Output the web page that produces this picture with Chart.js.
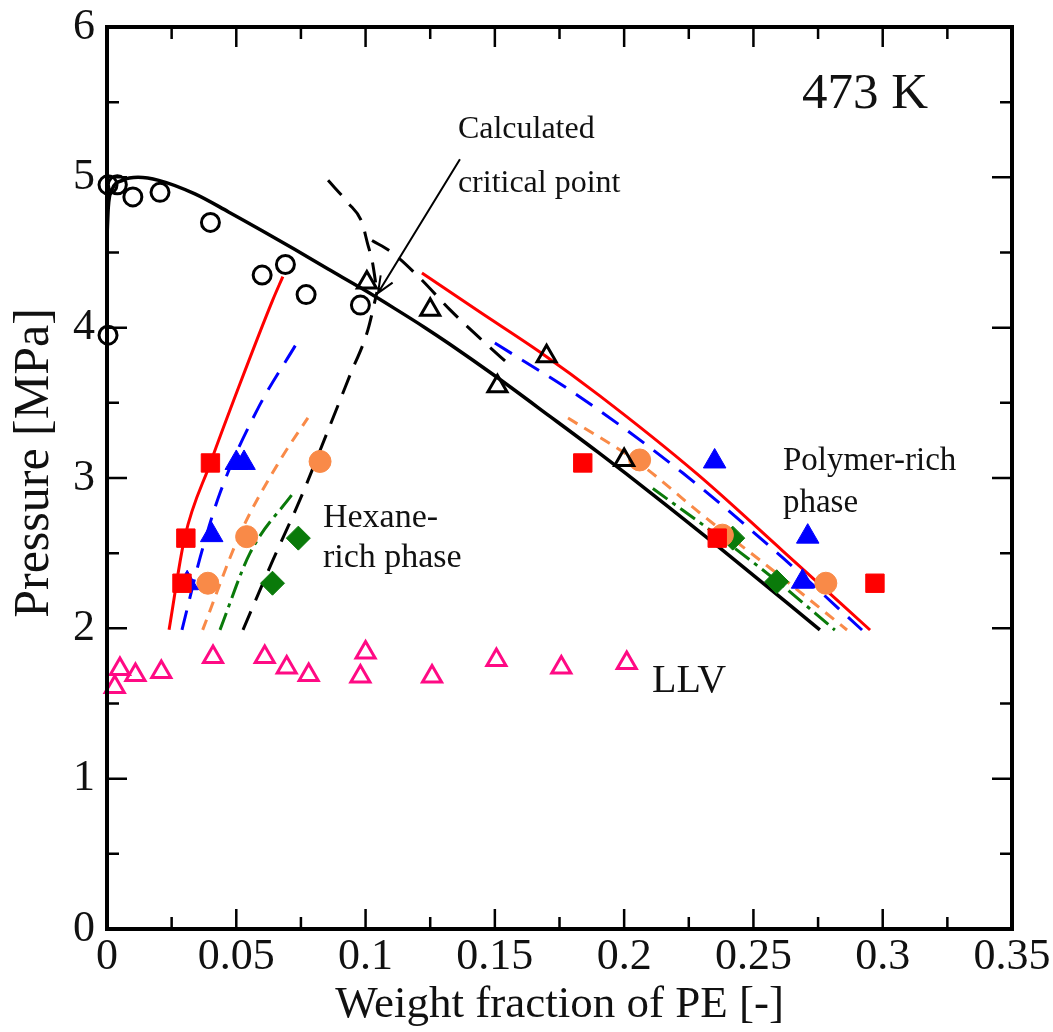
<!DOCTYPE html>
<html lang="en">
<head>
<meta charset="UTF-8">
<title>PE / hexane phase behaviour at 473 K</title>
<script src="https://cdn.jsdelivr.net/npm/chart.js@4.4.2/dist/chart.umd.min.js"></script>
<style>
  html, body { margin: 0; padding: 0; background: #fff; }
  #wrap { position: relative; width: 1053px; height: 1032px; }
</style>
</head>
<body>
<div id="wrap"><canvas id="chart"></canvas></div>
<script>
const SERIF = "'Liberation Serif', 'Times New Roman', serif";

// --- experimental points ---
// open circles: hexane-rich side, VLE
const vleCircleX = [0.0004, 0.004, 0.010, 0.0205, 0.040, 0.060, 0.069, 0.077, 0.098, 0.0004];
const vleCircleY = [4.95, 4.95, 4.87, 4.90, 4.70, 4.35, 4.42, 4.22, 4.15, 3.95];
// open triangles: polymer-rich side
const vleTriX = [0.1005, 0.125, 0.151, 0.170, 0.200];
const vleTriY = [4.30, 4.12, 3.61, 3.81, 3.12];
// filled markers, one colour per feed composition
const redSqX = [0.040, 0.0305, 0.029, 0.184, 0.236, 0.297];
const redSqY = [3.10, 2.60, 2.30, 3.10, 2.60, 2.30];
const blueTriX = [0.050, 0.053, 0.0405, 0.031, 0.235, 0.271, 0.269];
const blueTriY = [3.10, 3.10, 2.62, 2.30, 3.11, 2.61, 2.31];
const orangeX = [0.0824, 0.054, 0.039, 0.206, 0.238, 0.278];
const orangeY = [3.11, 2.61, 2.30, 3.12, 2.62, 2.30];
const greenX = [0.074, 0.064, 0.242, 0.259];
const greenY = [2.60, 2.30, 2.60, 2.31];
// LLV points
const llvX = [0.003, 0.005, 0.011, 0.021, 0.041, 0.061, 0.0695, 0.078, 0.100, 0.098, 0.1257, 0.1506, 0.1757, 0.201];
const llvY = [1.61, 1.73, 1.69, 1.71, 1.81, 1.81, 1.74, 1.69, 1.84, 1.68, 1.68, 1.79, 1.74, 1.77];

// --- calculated curves ---
const blackSolidX = [0, 0.0005, 0.002, 0.006, 0.012, 0.020, 0.034, 0.047, 0.060, 0.0727, 0.0855, 0.0986, 0.111, 0.123, 0.1326, 0.150, 0.1713, 0.190, 0.2111, 0.237, 0.2757];
const blackSolidY = [4.60, 4.80, 4.92, 4.98, 5.00, 4.98, 4.89, 4.77, 4.645, 4.52, 4.39, 4.26, 4.13, 4.00, 3.89, 3.68, 3.41, 3.17, 2.89, 2.535, 1.99];

const redHexX = [0.024, 0.030, 0.040, 0.0515, 0.064, 0.068];
const redHexY = [1.99, 2.60, 3.10, 3.63, 4.18, 4.34];
const redPolX = [0.1218, 0.1442, 0.1674, 0.1906, 0.2282, 0.2614, 0.2951];
const redPolY = [4.364, 4.104, 3.838, 3.546, 3.027, 2.514, 1.989];

const blueHexX = [0.029, 0.036, 0.0437, 0.058, 0.0735];
const blueHexY = [1.99, 2.47, 2.90, 3.45, 3.90];
const bluePolX = [0.150, 0.1829, 0.2227, 0.2614, 0.292];
const bluePolY = [3.898, 3.539, 3.033, 2.468, 1.989];

const orangeHexX = [0.037, 0.0515, 0.067, 0.0777];
const orangeHexY = [1.99, 2.63, 3.12, 3.40];
const orangePolX = [0.1783, 0.2057, 0.2293, 0.2603, 0.2862];
const orangePolY = [3.399, 3.10, 2.767, 2.348, 1.989];

const greenHexX = [0.0437, 0.0553, 0.072];
const greenHexY = [1.99, 2.50, 2.90];
const greenPolX = [0.2111, 0.2421, 0.2595, 0.2815];
const greenPolY = [2.93, 2.541, 2.308, 1.989];

const blackDashHexX = [0.0526, 0.0642, 0.0746, 0.0851, 0.094, 0.1009, 0.1044];
const blackDashHexY = [1.99, 2.455, 2.854, 3.30, 3.685, 3.985, 4.237];
const blackDashUpX = [0.0855, 0.0932, 0.0986, 0.1009, 0.1025, 0.1044];
const blackDashUpY = [4.98, 4.83, 4.70, 4.55, 4.45, 4.24];
const blackDashPolX = [0.1025, 0.1102, 0.121, 0.1326, 0.1442, 0.1558];
const blackDashPolY = [4.58, 4.50, 4.33, 4.12, 3.93, 3.75];

// axis ranges / ticks
const xMin = 0, xMax = 0.35, xStep = 0.05, xMinor = 0.025;
const yMin = 0, yMax = 6, yStep = 1, yMinor = 0.5;

// annotations (data coordinates, text baseline)
const arrowFrom = [0.1365, 5.12];
const arrowTo = [0.1048, 4.23];
const notes = [
  { text: '473 K', x: 0.2688, y: 5.46, size: 51 },
  { text: 'Calculated', x: 0.1357, y: 5.26, size: 32 },
  { text: 'critical point', x: 0.1357, y: 4.90, size: 32 },
  { text: 'Hexane-', x: 0.0835, y: 2.674, size: 34 },
  { text: 'rich phase', x: 0.0835, y: 2.408, size: 34 },
  { text: 'Polymer-rich', x: 0.2614, y: 3.053, size: 33 },
  { text: 'phase', x: 0.2614, y: 2.774, size: 33 },
  { text: 'LLV', x: 0.2108, y: 1.577, size: 40 }
];
const yTitle = { text: 'Pressure [MPa]', size: 50, cx: 35, value: 3.1 };

function pts(xs, ys) {
  return xs.map((x, i) => ({ x: x, y: ys[i] }));
}

function marker(data, style, color, radius, filled) {
  return {
    data: data,
    showLine: false,
    pointStyle: style,
    pointRadius: radius,
    pointBorderWidth: filled ? 1 : 3,
    pointBorderColor: color,
    pointBackgroundColor: filled ? color : 'rgba(0,0,0,0)',
    clip: false,
    order: 0
  };
}

function curve(data, color, dash, width) {
  return {
    data: data,
    showLine: true,
    borderColor: color,
    borderWidth: width || 3,
    borderDash: dash || [],
    pointRadius: 0,
    cubicInterpolationMode: 'monotone',
    fill: false,
    order: 1
  };
}

const BLUE = '#0000ff', RED = '#ff0000', ORANGE = '#f98a48', GREEN = '#0a7a0a', PINK = '#ff0a84';

// inward ticks on all four sides plus the frame
const framePlugin = {
  id: 'frame',
  afterDraw(chart) {
    const { ctx, chartArea: a, scales: { x, y } } = chart;
    ctx.save();
    ctx.strokeStyle = '#000';
    ctx.lineWidth = 2.5;
    ctx.beginPath();
    const nx = Math.round((xMax - xMin) / xMinor);
    for (let i = 1; i < nx; i++) {
      const px = x.getPixelForValue(xMin + i * xMinor);
      const len = i % 2 === 0 ? 20 : 12;
      ctx.moveTo(px, a.bottom); ctx.lineTo(px, a.bottom - len);
      ctx.moveTo(px, a.top); ctx.lineTo(px, a.top + len);
    }
    const ny = Math.round((yMax - yMin) / yMinor);
    for (let i = 1; i < ny; i++) {
      const py = y.getPixelForValue(yMin + i * yMinor);
      const len = i % 2 === 0 ? 20 : 12;
      ctx.moveTo(a.left, py); ctx.lineTo(a.left + len, py);
      ctx.moveTo(a.right, py); ctx.lineTo(a.right - len, py);
    }
    ctx.stroke();
    ctx.lineWidth = 4;
    ctx.strokeRect(a.left, a.top, a.right - a.left, a.bottom - a.top);
    ctx.restore();
  }
};

const notePlugin = {
  id: 'notes',
  afterDraw(chart) {
    const { ctx, scales: { x, y } } = chart;
    ctx.save();
    ctx.fillStyle = '#111';
    ctx.textBaseline = 'alphabetic';
    ctx.textAlign = 'left';
    notes.forEach(n => {
      ctx.font = n.size + 'px ' + SERIF;
      ctx.fillText(n.text, x.getPixelForValue(n.x), y.getPixelForValue(n.y));
    });
    // y axis title, sitting a little above the middle as in the original
    ctx.save();
    ctx.translate(yTitle.cx, y.getPixelForValue(yTitle.value));
    ctx.rotate(-Math.PI / 2);
    ctx.textAlign = 'center';
    ctx.textBaseline = 'middle';
    ctx.font = yTitle.size + 'px ' + SERIF;
    ctx.fillText(yTitle.text, 0, 0);
    ctx.restore();
    // arrow to the critical point
    const x0 = x.getPixelForValue(arrowFrom[0]), y0 = y.getPixelForValue(arrowFrom[1]);
    const x1 = x.getPixelForValue(arrowTo[0]), y1 = y.getPixelForValue(arrowTo[1]);
    const ang = Math.atan2(y1 - y0, x1 - x0);
    ctx.strokeStyle = '#000';
    ctx.lineWidth = 2;
    ctx.beginPath();
    ctx.moveTo(x0, y0); ctx.lineTo(x1, y1);
    ctx.moveTo(x1 - 18 * Math.cos(ang - 0.4), y1 - 18 * Math.sin(ang - 0.4));
    ctx.lineTo(x1, y1);
    ctx.lineTo(x1 - 18 * Math.cos(ang + 0.4), y1 - 18 * Math.sin(ang + 0.4));
    ctx.stroke();
    ctx.restore();
  }
};

new Chart(document.getElementById('chart'), {
  type: 'scatter',
  data: {
    datasets: [
      marker(pts(vleCircleX, vleCircleY), 'circle', '#000', 9, false),
      marker(pts(vleTriX, vleTriY), 'triangle', '#000', 11, false),
      marker(pts(redSqX, redSqY), 'rect', RED, 13, true),
      marker(pts(blueTriX, blueTriY), 'triangle', BLUE, 13, true),
      marker(pts(orangeX, orangeY), 'circle', ORANGE, 11, true),
      marker(pts(greenX, greenY), 'rectRot', GREEN, 12, true),
      marker(pts(llvX, llvY), 'triangle', PINK, 11, false),
      curve(pts(blackSolidX, blackSolidY), '#000', [], 3.5),
      curve(pts(redHexX, redHexY), RED, []),
      curve(pts(redPolX, redPolY), RED, []),
      curve(pts(blueHexX, blueHexY), BLUE, [20, 12]),
      curve(pts(bluePolX, bluePolY), BLUE, [20, 12]),
      curve(pts(orangeHexX, orangeHexY), ORANGE, [11, 8]),
      curve(pts(orangePolX, orangePolY), ORANGE, [11, 8]),
      curve(pts(greenHexX, greenHexY), GREEN, [18, 6, 4, 6]),
      curve(pts(greenPolX, greenPolY), GREEN, [18, 6, 4, 6]),
      curve(pts(blackDashHexX, blackDashHexY), '#000', [20, 12]),
      curve(pts(blackDashUpX, blackDashUpY), '#000', [20, 12]),
      curve(pts(blackDashPolX, blackDashPolY), '#000', [20, 12])
    ]
  },
  options: {
    responsive: true,
    maintainAspectRatio: false,
    animation: false,
    events: [],
    layout: { padding: { top: 27, right: 41, left: 0, bottom: 0 } },
    plugins: { legend: { display: false }, tooltip: { enabled: false } },
    scales: {
      x: {
        type: 'linear', min: xMin, max: xMax,
        grid: { display: false, drawTicks: false },
        border: { display: false },
        ticks: {
          stepSize: xStep, padding: 2, color: '#111',
          font: { family: SERIF, size: 44 },
          callback: v => String(Number(v.toFixed(2)))
        },
        title: {
          display: true, text: 'Weight fraction of PE [-]', color: '#111',
          font: { family: SERIF, size: 45 }, padding: { top: 0, bottom: 0 }
        },
        afterFit: s => { s.height = 103; s.paddingLeft = 0; s.paddingRight = 0; }
      },
      y: {
        type: 'linear', min: yMin, max: yMax,
        grid: { display: false, drawTicks: false },
        border: { display: false },
        ticks: {
          stepSize: yStep, padding: 12, color: '#111',
          font: { family: SERIF, size: 44 }
        },
        title: { display: false },
        afterFit: s => { s.width = 107; s.paddingTop = 0; s.paddingBottom = 0; }
      }
    }
  },
  plugins: [framePlugin, notePlugin]
});
</script>
</body>
</html>
